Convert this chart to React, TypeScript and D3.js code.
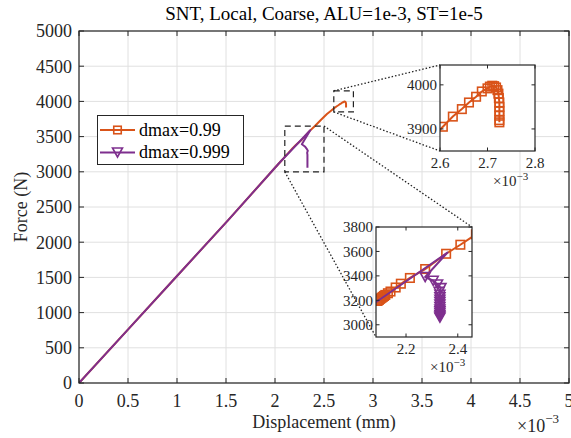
import React from 'react';
import * as d3 from 'd3';

const width = 571;
const height = 438;
const font = '"Liberation Serif", "Times New Roman", serif';

// displacement in units of 1e-3 mm, force in N
const orangeX = [0, 0.52, 1.0, 1.52, 2.0, 2.06, 2.09, 2.095, 2.1, 2.105, 2.11, 2.115, 2.12, 2.13, 2.14, 2.16, 2.18, 2.215, 2.274, 2.355, 2.41, 2.47, 2.53, 2.575, 2.606, 2.627, 2.646, 2.661, 2.676, 2.688, 2.7, 2.705, 2.71, 2.714, 2.718, 2.721, 2.723, 2.724, 2.725, 2.725, 2.725, 2.725, 2.725, 2.725];
const orangeY = [0, 790, 1520, 2310, 3058, 3150, 3195, 3203, 3212, 3220, 3228, 3236, 3244, 3258, 3272, 3305, 3336, 3383, 3456, 3581, 3655, 3740, 3820, 3870, 3905, 3928, 3945, 3960, 3973, 3985, 3992, 3996, 3998, 3997, 3994, 3988, 3980, 3970, 3960, 3950, 3940, 3930, 3920, 3915];

const purpleX = [0, 0.52, 1.0, 1.52, 2.0, 2.06, 2.36, 2.274, 2.305, 2.322, 2.335, 2.328, 2.331, 2.331, 2.331, 2.331, 2.331, 2.331, 2.331, 2.331, 2.331, 2.331, 2.331, 2.331];
const purpleY = [0, 790, 1520, 2310, 3058, 3150, 3590, 3391, 3360, 3330, 3300, 3270, 3245, 3225, 3205, 3185, 3165, 3145, 3125, 3110, 3095, 3080, 3068, 3058];
const purpleMarkFrom = 7;

const xTicks = [0, 0.5, 1, 1.5, 2, 2.5, 3, 3.5, 4, 4.5, 5];
const yTicks = [0, 500, 1000, 1500, 2000, 2500, 3000, 3500, 4000, 4500, 5000];

const seriesNames = ['dmax=0.99', 'dmax=0.999'];
const colors = ['#D95319', '#7E2F8E'];

const toPts = (xs: number[], ys: number[]) => xs.map((x, i) => [x, ys[i]] as [number, number]);
const orange = toPts(orangeX, orangeY);
const purple = toPts(purpleX, purpleY);

// zoom boxes in data units
const zoomA = { x: [2.6, 2.8], y: [3850, 4150] };
const zoomB = { x: [2.1, 2.5], y: [3000, 3650] };

const insetA = { left: 440, top: 65, right: 535, bottom: 151, xDom: [2.6, 2.8], yDom: [3850, 4045], xTicks: [2.6, 2.7, 2.8], yTicks: [3900, 4000] };
const insetB = { left: 376, top: 227, right: 472, bottom: 337, xDom: [2.084, 2.455], yDom: [2900, 3800], xTicks: [2.2, 2.4], yTicks: [3000, 3200, 3400, 3600, 3800] };

const axisColor = '#262626';
const gridColor = '#e0e0e0';

function Square({ x, y, s, color }: any) {
  return <rect x={x - s / 2} y={y - s / 2} width={s} height={s} fill="none" stroke={color} strokeWidth={1.6} />;
}
function TriDown({ x, y, s, color }: any) {
  const h = s * 0.9;
  return <path d={`M${x - s / 2},${y - h / 2}L${x + s / 2},${y - h / 2}L${x},${y + h / 2}Z`} fill="none" stroke={color} strokeWidth={1.6} />;
}

function Inset({ cfg, id }: any) {
  const xs = d3.scaleLinear().domain(cfg.xDom).range([cfg.left, cfg.right]);
  const ys = d3.scaleLinear().domain(cfg.yDom).range([cfg.bottom, cfg.top]);
  const line = d3.line<[number, number]>().x(d => xs(d[0])).y(d => ys(d[1]));
  const tl = 3.5;
  return (
    <g>
      <defs>
        <clipPath id={id}>
          <rect x={cfg.left} y={cfg.top} width={cfg.right - cfg.left} height={cfg.bottom - cfg.top} />
        </clipPath>
      </defs>
      <rect x={cfg.left} y={cfg.top} width={cfg.right - cfg.left} height={cfg.bottom - cfg.top} fill="white" />
      <g clipPath={`url(#${id})`}>
        <path d={line(orange) || ''} fill="none" stroke={colors[0]} strokeWidth={2} />
        {orange.map((d, i) => <Square key={i} x={xs(d[0])} y={ys(d[1])} s={8.5} color={colors[0]} />)}
        <path d={line(purple) || ''} fill="none" stroke={colors[1]} strokeWidth={2} strokeLinejoin="round" />
        {purple.slice(purpleMarkFrom).map((d, i) => <TriDown key={i} x={xs(d[0])} y={ys(d[1])} s={10} color={colors[1]} />)}
      </g>
      {cfg.xTicks.map((t: number) => (
        <g key={t}>
          <line x1={xs(t)} x2={xs(t)} y1={cfg.bottom} y2={cfg.bottom - tl} stroke={axisColor} />
          <line x1={xs(t)} x2={xs(t)} y1={cfg.top} y2={cfg.top + tl} stroke={axisColor} />
          <text x={xs(t)} y={cfg.bottom + 17} textAnchor="middle" fontSize={15} fill={axisColor}>{t}</text>
        </g>
      ))}
      {cfg.yTicks.map((t: number) => (
        <g key={t}>
          <line x1={cfg.left} x2={cfg.left + tl} y1={ys(t)} y2={ys(t)} stroke={axisColor} />
          <line x1={cfg.right} x2={cfg.right - tl} y1={ys(t)} y2={ys(t)} stroke={axisColor} />
          <text x={cfg.left - 3} y={ys(t)} dy="0.35em" textAnchor="end" fontSize={15} fill={axisColor}>{t}</text>
        </g>
      ))}
      <rect x={cfg.left} y={cfg.top} width={cfg.right - cfg.left} height={cfg.bottom - cfg.top} fill="none" stroke={axisColor} strokeWidth={1.2} />
      <text x={cfg.right - 42} y={cfg.bottom + 35} fontSize={15} fill={axisColor}>
        ×10<tspan dy={-6} fontSize={11}>−3</tspan>
      </text>
    </g>
  );
}

export default function App() {
  const left = 79, right = 569, top = 31, bottom = 383;
  const x = d3.scaleLinear().domain([0, 5]).range([left, right]);
  const y = d3.scaleLinear().domain([0, 5000]).range([bottom, top]);
  const line = d3.line<[number, number]>().x(d => x(d[0])).y(d => y(d[1]));
  const tl = 5;

  const rA = { x0: x(zoomA.x[0]), x1: x(zoomA.x[1]), y0: y(zoomA.y[1]), y1: y(zoomA.y[0]) };
  const rB = { x0: x(zoomB.x[0]), x1: x(zoomB.x[1]), y0: y(zoomB.y[1]), y1: y(zoomB.y[0]) };

  return (
    <svg width={width} height={height} style={{ position: 'absolute', left: 0, top: 0, background: 'white' }} fontFamily={font}>
      <defs>
        <clipPath id="main-clip">
          <rect x={left} y={top} width={right - left} height={bottom - top} />
        </clipPath>
      </defs>
      <rect x={0} y={0} width={width} height={height} fill="white" />
      {/* grid */}
      {xTicks.map(t => <line key={'gx' + t} x1={x(t)} x2={x(t)} y1={top} y2={bottom} stroke={gridColor} />)}
      {yTicks.map(t => <line key={'gy' + t} x1={left} x2={right} y1={y(t)} y2={y(t)} stroke={gridColor} />)}

      <g clipPath="url(#main-clip)">
        <path d={line(orange) || ''} fill="none" stroke={colors[0]} strokeWidth={2} strokeLinejoin="round" />
        <path d={line(purple) || ''} fill="none" stroke={colors[1]} strokeWidth={2} strokeLinejoin="round" />
      </g>

      {/* ticks and labels */}
      {xTicks.map(t => (
        <g key={'tx' + t}>
          <line x1={x(t)} x2={x(t)} y1={bottom} y2={bottom - tl} stroke={axisColor} />
          <line x1={x(t)} x2={x(t)} y1={top} y2={top + tl} stroke={axisColor} />
          <text x={x(t)} y={bottom + 24} textAnchor="middle" fontSize={18} fill={axisColor}>{t}</text>
        </g>
      ))}
      {yTicks.map(t => (
        <g key={'ty' + t}>
          <line x1={left} x2={left + tl} y1={y(t)} y2={y(t)} stroke={axisColor} />
          <line x1={right} x2={right - tl} y1={y(t)} y2={y(t)} stroke={axisColor} />
          <text x={left - 7} y={y(t)} dy="0.35em" textAnchor="end" fontSize={18} fill={axisColor}>{t}</text>
        </g>
      ))}
      <rect x={left} y={top} width={right - left} height={bottom - top} fill="none" stroke={axisColor} strokeWidth={1.2} />

      <text x={(left + right) / 2} y={20} textAnchor="middle" fontSize={19} fill="#000">SNT, Local, Coarse, ALU=1e-3, ST=1e-5</text>
      <text x={(left + right) / 2} y={428} textAnchor="middle" fontSize={18} fill={axisColor}>Displacement (mm)</text>
      <text transform={`translate(27,${(top + bottom) / 2}) rotate(-90)`} textAnchor="middle" fontSize={18} fill={axisColor}>Force (N)</text>
      <text x={517} y={432} fontSize={18} fill={axisColor}>
        ×10<tspan dy={-9} fontSize={13}>−3</tspan>
      </text>

      {/* zoom rectangles */}
      <rect x={rA.x0} y={rA.y0} width={rA.x1 - rA.x0} height={rA.y1 - rA.y0} fill="none" stroke="#222" strokeWidth={1.2} strokeDasharray="6,4" />
      <rect x={rB.x0} y={rB.y0} width={rB.x1 - rB.x0} height={rB.y1 - rB.y0} fill="none" stroke="#222" strokeWidth={1.2} strokeDasharray="6,4" />

      {/* connectors */}
      <g stroke="#222" strokeWidth={1.3} strokeDasharray="1.5,2">
        <line x1={rA.x0} y1={rA.y0} x2={insetA.left} y2={insetA.top} />
        <line x1={rA.x0} y1={rA.y1} x2={insetA.left} y2={insetA.bottom} />
        <line x1={rB.x1} y1={rB.y0} x2={insetB.right} y2={insetB.top} />
        <line x1={rB.x0} y1={rB.y1} x2={insetB.left} y2={insetB.bottom} />
      </g>

      <Inset cfg={insetA} id="clipA" />
      <Inset cfg={insetB} id="clipB" />

      {/* legend */}
      <g>
        <rect x={97.5} y={115.5} width={146} height={49} fill="white" stroke={axisColor} strokeWidth={1} />
        {seriesNames.map((name, i) => {
          const ly = 130 + i * 22.5;
          return (
            <g key={name}>
              <line x1={100} x2={135} y1={ly} y2={ly} stroke={colors[i]} strokeWidth={2} />
              {i === 0 ? <Square x={117.5} y={ly} s={7.5} color={colors[i]} /> : <TriDown x={117.5} y={ly} s={10} color={colors[i]} />}
              <text x={139} y={ly} dy="0.33em" fontSize={18} fill="#000">{name}</text>
            </g>
          );
        })}
      </g>
    </svg>
  );
}
